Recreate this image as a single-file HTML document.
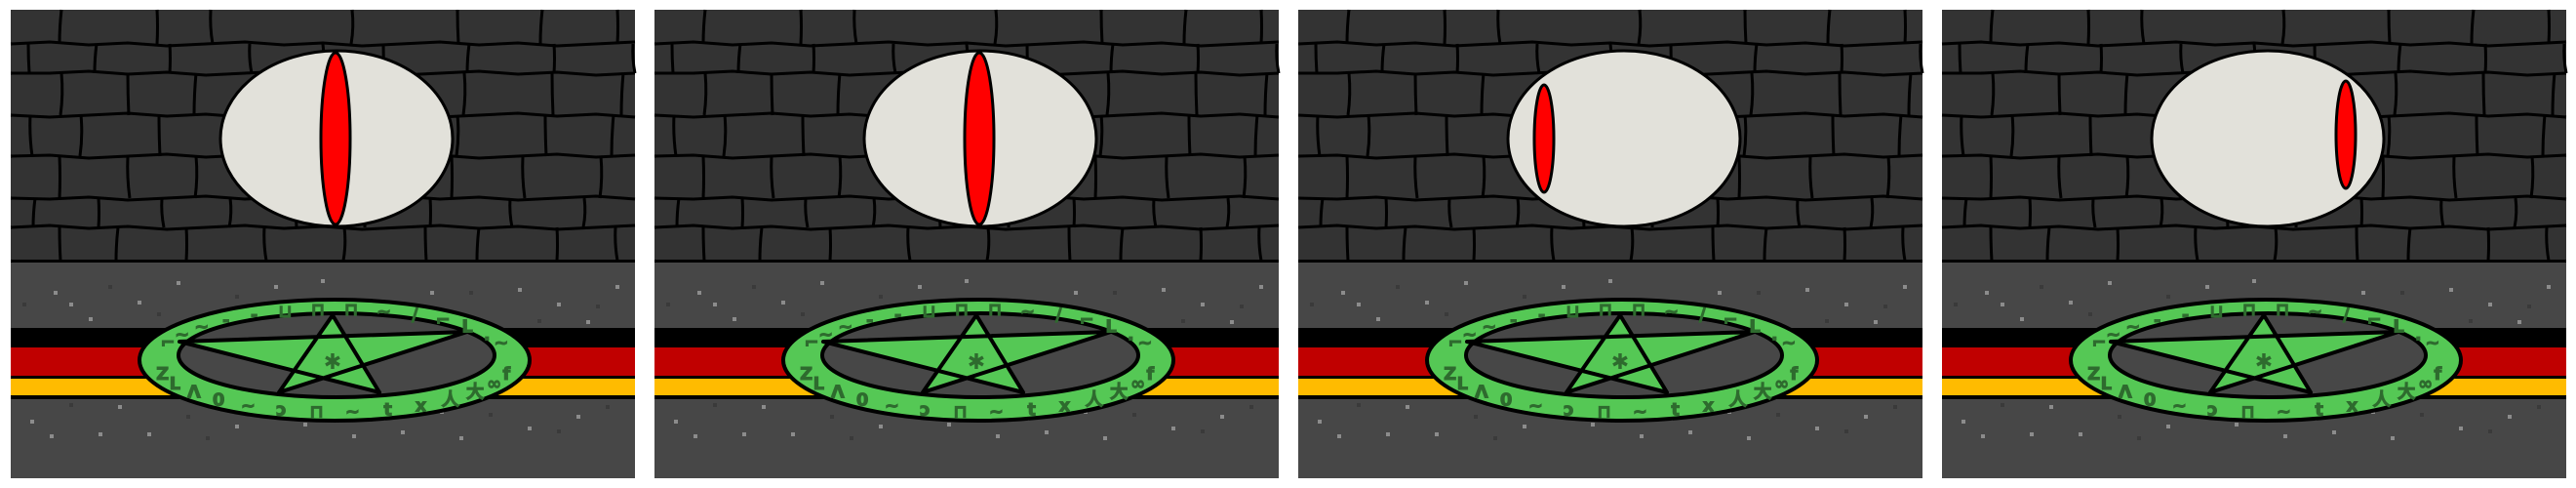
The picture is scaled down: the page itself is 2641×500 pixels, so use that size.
<!DOCTYPE html>
<html><head><meta charset="utf-8"><style>
html,body{margin:0;padding:0;background:#fff;width:2641px;height:500px;overflow:hidden}
svg{display:block}
</style></head><body>
<svg id="scene" width="2641" height="500" viewBox="0 0 2641 500" xmlns="http://www.w3.org/2000/svg">
<rect width="2641" height="500" fill="#ffffff"/>
</svg>
<script>
const frameX = [11, 671, 1331, 1991];
const pupilCX = [333, 333, 252, 414];
const pupilCY = [132, 132, 132, 128];
const pupilRX = [15, 15, 10, 10];
const pupilRY = [88, 88, 55, 55];
const rowY = [0, 35, 65, 108, 150, 193, 223, 257];
const joints = [
 [52,150,205,350,458,545,622],
 [18,88,163,245,320,382,470,557,638],
 [52,120,190,272,372,465,555,628],
 [20,72,152,220,290,360,458,548,618],
 [50,120,190,278,350,452,525,605],
 [25,90,155,225,292,365,430,512,588],
 [50,110,180,260,342,425,480,560,620]
];
const specks = [[12,30],[44,18],[60,30],[100,12],[130,28],[170,8],[230,22],[270,12],[318,6],[360,35],[390,30],[430,18],[470,18],[520,15],[560,30],[600,32],[620,12],[80,45],[150,40],[250,48],[420,50],[540,47],[590,48],[20,115],[60,98],[110,100],[140,128],[180,110],[230,120],[280,108],[330,100],[380,112],[440,105],[490,108],[530,122],[580,110],[610,100],[40,130],[90,128],[200,132],[350,130],[460,132],[560,125],[300,118],[400,126]];
const runesTop = "⌐~~--⊔⊓⊓~∕⌐L.~";
const runesBot = "ZLΛ0~ɔ⊓~tx人大∞f";
const NS = "http://www.w3.org/2000/svg";
const svg = document.getElementById('scene');
function mk(tag, attrs, parent){ const e=document.createElementNS(NS,tag); for(const k in attrs) e.setAttribute(k,attrs[k]); parent.appendChild(e); return e; }
function wig(i,j){ return ((i*7+j*13)%5)-2; }
frameX.forEach((fx, f) => {
  const g = mk('g', {transform:`translate(${fx},10)`}, svg);
  
  
  const wall = mk('rect',{x:0,y:0,width:640,height:258,fill:'#333333'},g);
  
  
  for (let r=1;r<rowY.length-1;r++){
    let d='M0 '+rowY[r];
    for(let x=40;x<=640;x+=40) d+=' L'+x+' '+(rowY[r]+wig(r,x/40));
    const p = mk('path',{d:d,stroke:'#000',fill:'none','stroke-width':3},g);
    
    
  }
  joints.forEach((row,r)=>{
    row.forEach((x,j)=>{
      const y1=rowY[r], y2=rowY[r+1];
      const p = mk('path',{d:`M${x} ${y1} Q${x+wig(r,j)} ${(y1+y2)/2} ${x+wig(j,r)} ${y2}`,stroke:'#000',fill:'none','stroke-width':3},g);
      
      
    });
  });
  const ground = mk('rect',{x:0,y:258,width:640,height:222,fill:'#474747'},g);
  
  
  mk('rect',{x:0,y:256,width:640,height:3,fill:'#000'},g);
  specks.forEach((s,i)=>{
    const r = mk('rect',{x:s[0],y:(s[1]<80?270:400)+s[1]-(s[1]<80?0:95),width:4,height:4,fill:(i%3==0)?'#3a3a3a':'#8c8c8c'},g);
    
    
  });
  const st=[['#000',326,20],['#c00000',346,29],['#000',375,3],['#ffbb00',378,17],['#000',395,4]];
  st.forEach(s=>{
    const r=mk('rect',{x:0,y:s[1],width:640,height:s[2],fill:s[0]},g);
    
    
  });
  const eye = mk('ellipse',{cx:334,cy:132,rx:119,ry:90,fill:'#e2e1da',stroke:'#000','stroke-width':3},g);
  
  
  const pup = mk('ellipse',{cx:pupilCX[f],cy:pupilCY[f],rx:pupilRX[f],ry:pupilRY[f],fill:'#ff0000',stroke:'#000','stroke-width':3},g);
  
  
  const ring = mk('ellipse',{cx:332,cy:359,rx:200,ry:62,fill:'#55c855',stroke:'#000','stroke-width':4},g);
  
  
  const inner = mk('ellipse',{cx:334,cy:354,rx:162,ry:43,fill:'#474747',stroke:'#000','stroke-width':4},g);
  
  
  const star = mk('polygon',{points:'330,313 378,392 173,340 468,330 275,392',fill:'#55c855','fill-rule':'nonzero',stroke:'#000','stroke-width':4,'stroke-linejoin':'round'},g);
  
  
  const c = mk('text',{x:330,y:368,fill:'#2e6b2e','font-size':22,'font-family':'DejaVu Sans, sans-serif','text-anchor':'middle'},g);
  c.textContent='✱';
  
  
  [...runesTop].forEach((ch,i)=>{
    const a = Math.PI + 0.35 + i*(Math.PI-0.7)/(runesTop.length-1);
    const t = mk('text',{x:332+182*Math.cos(a),y:359+52*Math.sin(a)+6,fill:'#2e6b2e',stroke:'#2e6b2e','stroke-width':1,'font-size':18,'font-weight':'bold','font-family':'DejaVu Sans, sans-serif','text-anchor':'middle'},g);
    t.textContent=ch;
    
    
  });
  [...runesBot].forEach((ch,i)=>{
    const a = Math.PI - 0.25 - i*(Math.PI-0.5)/(runesBot.length-1);
    const t = mk('text',{x:332+182*Math.cos(a),y:359+52*Math.sin(a)+7,fill:'#2e6b2e',stroke:'#2e6b2e','stroke-width':1,'font-size':18,'font-weight':'bold','font-family':'DejaVu Sans, sans-serif','text-anchor':'middle'},g);
    t.textContent=ch;
    
    
  });
});
</script>
</body></html>
